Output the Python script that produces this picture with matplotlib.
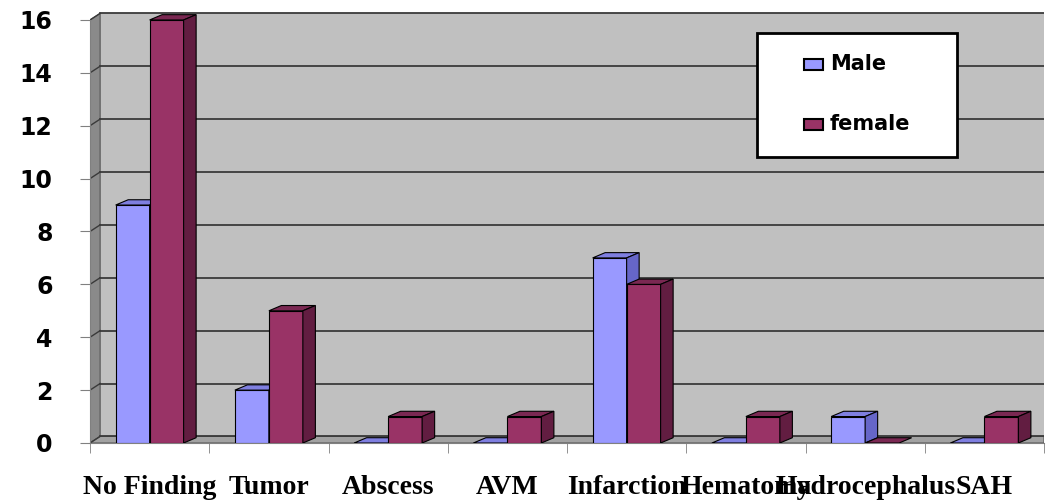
import matplotlib.pyplot as plt
from matplotlib.patches import Polygon, Rectangle

categories = ['No Finding', 'Tumor', 'Abscess', 'AVM', 'Infarction',
              'Hematoma', 'Hydrocephalus', 'SAH']
male = [9, 2, 0, 0, 7, 0, 1, 0]
female = [16, 5, 1, 1, 6, 1, 0, 1]
yticks = [0, 2, 4, 6, 8, 10, 12, 14, 16]
series = ['Male', 'female']

# colours: front, top, side
male_col = ('#9999FF', '#7F7FE0', '#6666C8')
female_col = ('#993366', '#7A2852', '#621D41')

W, H = 1046, 500
fig = plt.figure(figsize=(W / 100, H / 100), dpi=100)
ax = fig.add_axes([90 / W, 57 / H, (1044 - 90) / W, 433 / H])

x0, x1 = -0.5, len(categories) - 0.5
ax.set_xlim(x0, x1)
ax.set_ylim(0, 433 / 26.44)

# 3d walls
wdx, wdy = 0.085, 0.25
ax.add_patch(Rectangle((x0 + wdx, wdy), x1 - x0 - wdx, yticks[-1],
                       fc='#C0C0C0', ec='none', zorder=0))
ax.add_patch(Polygon([(x0, 0), (x0 + wdx, wdy), (x0 + wdx, yticks[-1] + wdy),
                      (x0, yticks[-1])], fc='#8A8A8A', ec='#555555', lw=0.8, zorder=1))
ax.add_patch(Polygon([(x0, 0), (x0 + wdx, wdy), (x1, wdy), (x1, 0)],
                     fc='#A2A2A2', ec='#555555', lw=0.8, zorder=1))
for v in yticks:
    ax.plot([x0 + wdx, x1], [v + wdy] * 2, color='#3A3A3A', lw=1.3, zorder=1.5)
    ax.plot([x0, x0 + wdx], [v, v + wdy], color='#3A3A3A', lw=1.0, zorder=1.5)

# 3d bars
w = 0.285
bdx, bdy = 0.105, 0.2


def bars3d(offset, vals, cols, z):
    xs = [i + offset for i in range(len(vals))]
    ax.bar(xs, vals, width=w, align='edge', color=cols[0], edgecolor='black',
           lw=0.8, zorder=z)
    for x, v in zip(xs, vals):
        ax.add_patch(Polygon([(x, v), (x + bdx, v + bdy), (x + w + bdx, v + bdy), (x + w, v)],
                             fc=cols[1], ec='black', lw=0.8, zorder=z))
        if v > 0:
            ax.add_patch(Polygon([(x + w, 0), (x + w + bdx, bdy), (x + w + bdx, v + bdy), (x + w, v)],
                                 fc=cols[2], ec='black', lw=0.8, zorder=z))


bars3d(-w, male, male_col, 3)
bars3d(0, female, female_col, 4)

# axes styling
for s in ['top', 'right']:
    ax.spines[s].set_visible(False)
ax.spines['left'].set_bounds(0, yticks[-1])
ax.spines['left'].set_color('#808080')
ax.spines['bottom'].set_color('#808080')
ax.set_facecolor('white')

ax.set_yticks(yticks)
ax.set_yticklabels([str(v) for v in yticks], fontsize=17, fontweight='bold',
                   family='DejaVu Sans')
ax.tick_params(axis='y', length=7, color='#808080', pad=20)

ax.set_xticks(range(len(categories)))
ax.set_xticklabels(categories, fontsize=20, fontweight='bold', family='Liberation Serif')
ax.set_xticks([i + 0.5 for i in range(-1, len(categories))], minor=True)
ax.tick_params(axis='x', which='major', length=0, pad=23)
ax.tick_params(axis='x', which='minor', length=7, color='#808080')

# legend box
fig.add_artist(Rectangle((757 / W, 1 - 157 / H), 200 / W, 124 / H,
                         transform=fig.transFigure, fc='white', ec='black', lw=2, zorder=10))
for name, col, yc in zip(series, [male_col[0], female_col[0]], [64, 124]):
    fig.add_artist(Rectangle((804 / W, 1 - (yc + 6) / H), 19 / W, 11 / H,
                             transform=fig.transFigure, fc=col, ec='black', lw=1.5, zorder=11))
    fig.text(830 / W, 1 - yc / H, name, fontsize=15, fontweight='bold',
             va='center', ha='left', zorder=11)

fig.savefig('out.png', dpi=100)
